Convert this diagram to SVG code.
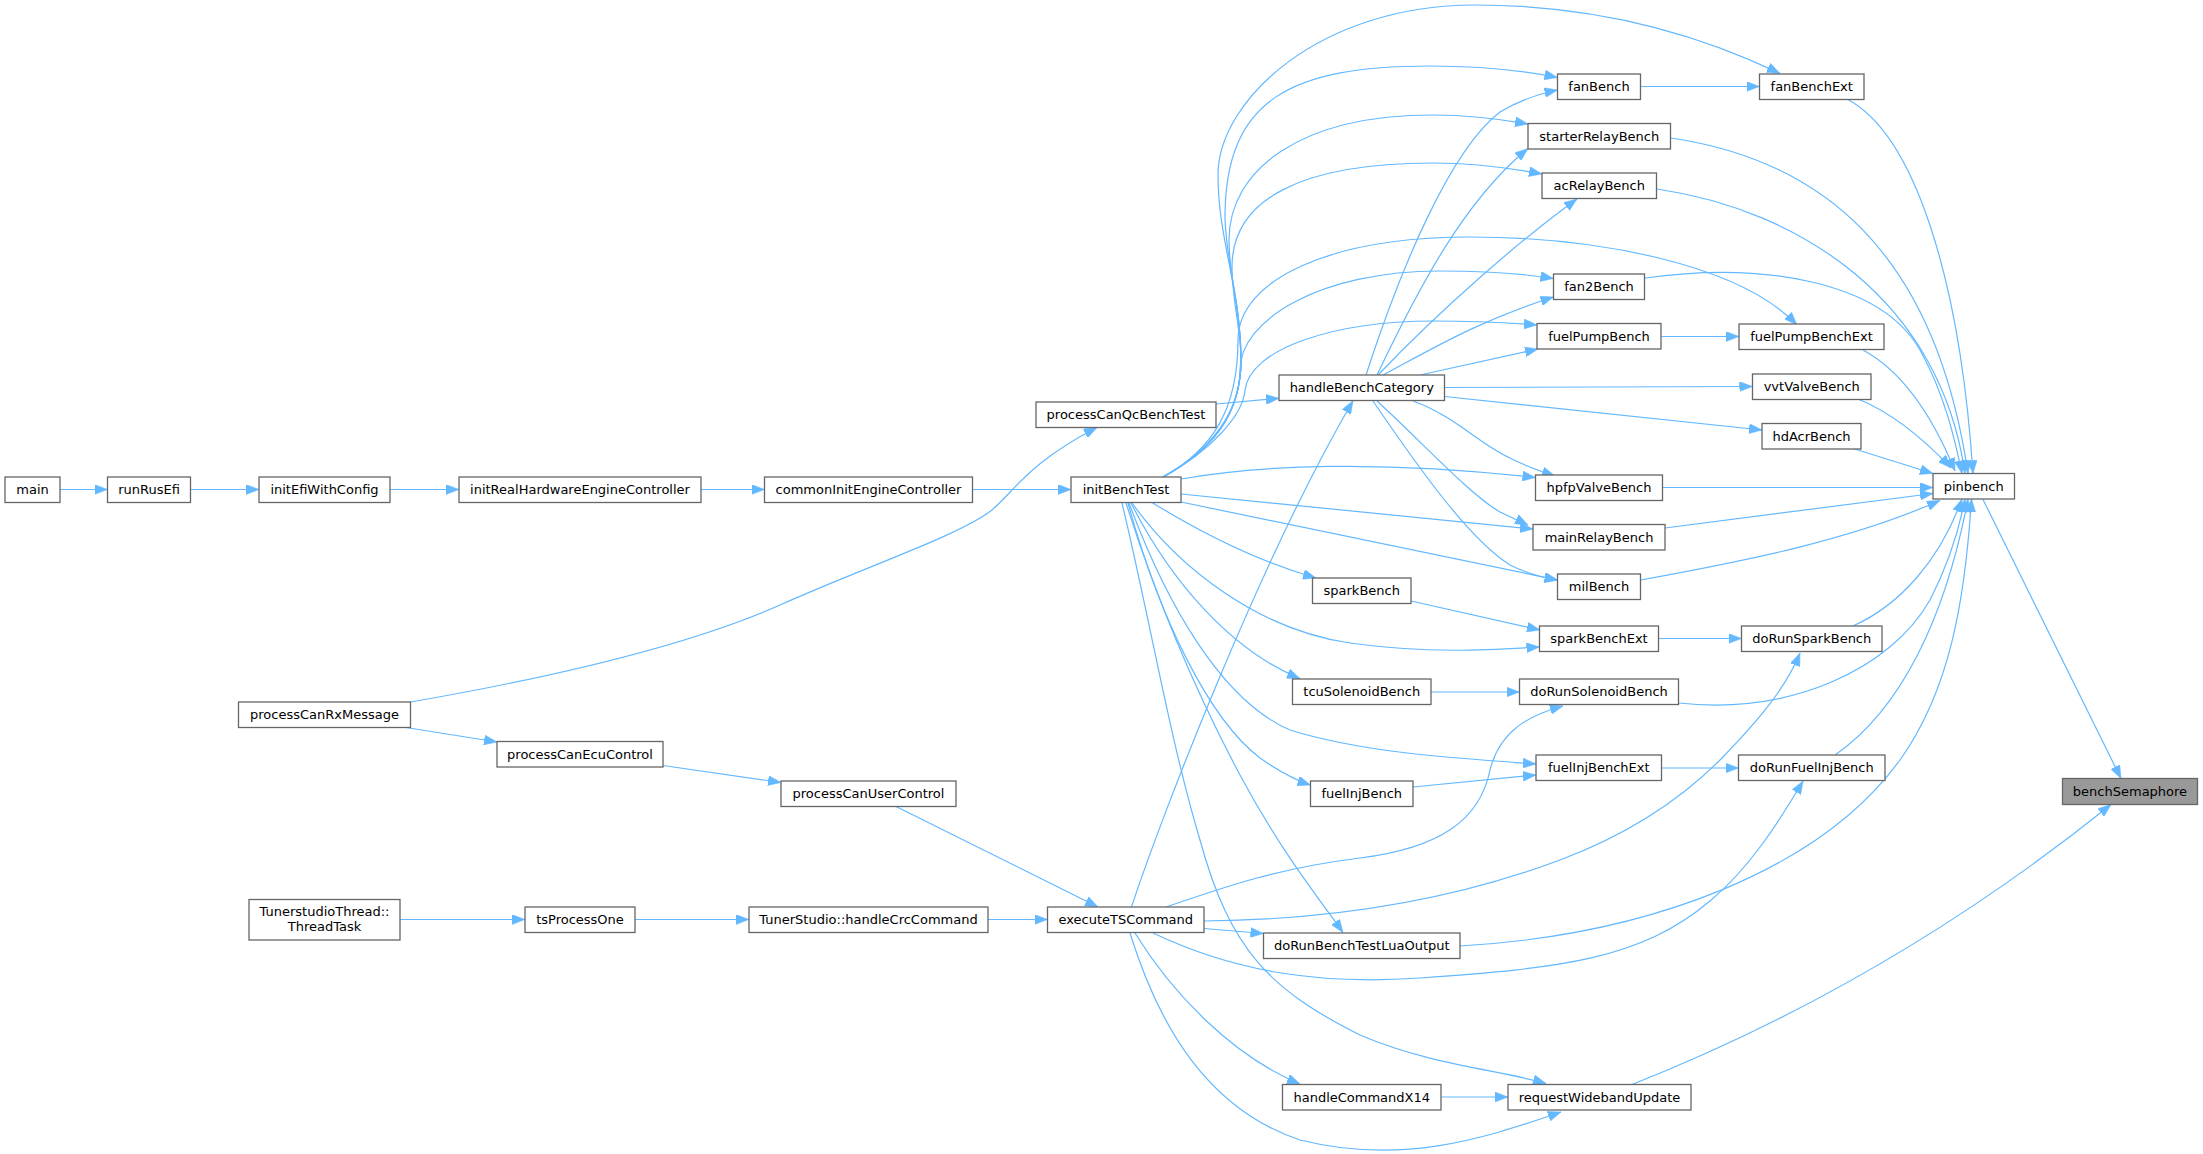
<svg xmlns="http://www.w3.org/2000/svg" width="2203" height="1154" viewBox="0 0 2203 1154">
<style>
.n rect{fill:#ffffff;stroke:#666666;stroke-width:1.3}
.n text{font-family:"DejaVu Sans","Liberation Sans",sans-serif;font-size:13px;fill:#000000;text-anchor:middle}
.root rect{fill:#999999}
.e path{fill:none;stroke:#63b8ff;stroke-width:1.2;marker-end:url(#ah)}
</style>
<defs>
<marker id="ah" markerUnits="userSpaceOnUse" markerWidth="13" markerHeight="10" viewBox="0 0 13 10" refX="13" refY="5" orient="auto">
<path d="M0,0 L13,5 L0,10 Z" fill="#63b8ff" stroke="#63b8ff" stroke-width="0.5"/>
</marker>
</defs>
<rect width="2203" height="1154" fill="#ffffff"/>
<g id="connectors" class="e">
<path d="M60,489.5 L107.5,489.5"/>
<path d="M190.5,489.5 L259,489.5"/>
<path d="M390,489.5 L459,489.5"/>
<path d="M701,489.5 L764.5,489.5"/>
<path d="M972.5,489.5 L1071,489.5"/>
<path d="M400,919.5 L525,919.5"/>
<path d="M635,919.5 L749,919.5"/>
<path d="M988,919.5 L1047.5,919.5"/>
<path d="M406,727.5 L497,742"/>
<path d="M663,765.5 L781,782.5"/>
<path d="M896,806.5 L1098,907"/>
<path d="M410.6,702 C560,676 690,645 780,605 C870,565 960,535 992,510 C1015,490 1030,462 1097,427.5"/>
<path d="M1216,404 L1279,398.3"/>
<path d="M1131.5,907 C1160,820 1260,560 1353,400.7"/>
<!-- initBenchTest upward arcs -->
<path d="M1163,477 C1212,450 1241,415 1241,360 C1241,290 1218,240 1218,175 C1218,100 1320,5 1475,5 C1600,5 1700,35 1780,73.5"/>
<path d="M1163,477 C1212,450 1241,415 1241,360 C1241,300 1225,260 1225,215 C1226,100 1290,66 1430,66 C1480,66 1520,70 1557.5,77.5"/>
<path d="M1163,477 C1212,450 1241,415 1241,360 C1241,310 1229,280 1229,240 C1229,170 1300,115 1433,115 C1470,115 1500,119 1528,124"/>
<path d="M1163,477 C1212,450 1241,415 1241,360 C1241,330 1232,300 1232,267 C1232,200 1300,163 1433,163 C1475,163 1510,168 1542,174"/>
<path d="M1163,477 C1212,450 1238,410 1238,340 C1238,280 1330,237 1470,237 C1600,237 1740,265 1797,325"/>
<path d="M1163,477 C1212,450 1240,410 1240,370 C1240,320 1320,271 1440,271 C1490,271 1525,274 1553.5,278.5"/>
<path d="M1163,477 C1212,450 1243,415 1245,390 C1250,350 1330,321 1435,321 C1480,321 1510,323 1537,325"/>
<!-- initBenchTest right/down -->
<path d="M1181,479 C1260,465 1380,460 1535.5,477.5"/>
<path d="M1181,494 L1533,529"/>
<path d="M1181,502 L1557.5,580"/>
<path d="M1152,502.5 C1200,532 1260,562 1316,578"/>
<path d="M1132,503 C1180,570 1260,630 1350,643 C1430,654 1490,650 1539.5,647"/>
<path d="M1131,503 C1170,580 1230,650 1300,678.5"/>
<path d="M1129,503 C1165,600 1220,700 1290,730 C1360,752 1450,758 1536,764"/>
<path d="M1128,503 C1160,620 1210,720 1260,758 C1280,772 1295,780 1310.5,785"/>
<path d="M1126,503 C1160,610 1200,700 1240,775 C1280,850 1320,900 1343,932.5"/>
<path d="M1122,503 C1150,620 1170,740 1200,840 C1230,950 1270,990 1360,1035 C1430,1065 1500,1070 1546,1083.5"/>
<!-- handleBenchCategory out -->
<path d="M1366,375 C1400,270 1450,150 1500,112 C1520,100 1538,94 1557.5,90"/>
<path d="M1377,375 C1420,285 1465,200 1528,148.5"/>
<path d="M1378,375 C1440,310 1520,240 1577,199"/>
<path d="M1383,375 C1430,350 1480,320 1553.5,297"/>
<path d="M1420,375 L1538,349"/>
<path d="M1444.5,387.5 L1752.5,386.5"/>
<path d="M1444.5,396.5 L1762,430"/>
<path d="M1413,401 C1455,416 1480,445 1510,458 C1525,466 1540,471 1555,476"/>
<path d="M1377,401 C1420,440 1470,495 1500,512 C1512,518 1522,522 1528,525"/>
<path d="M1373,401 C1420,470 1470,540 1510,565 C1530,575 1545,578 1557.5,580"/>
<!-- executeTSCommand out -->
<path d="M1166,907 C1230,885 1280,868 1360,858 C1440,848 1480,820 1490,770 C1500,730 1530,715 1563,706"/>
<path d="M1204,921 C1320,920 1440,905 1560,860 C1640,830 1690,790 1720,760 C1755,724 1785,690 1800,653"/>
<path d="M1204,928.5 L1263.5,933.5"/>
<path d="M1153,933 C1235,972 1320,985 1420,978 C1560,968 1640,960 1710,901 C1750,868 1780,820 1803,781"/>
<path d="M1135,933 C1170,990 1230,1055 1300,1084"/>
<path d="M1130,933 C1160,1030 1210,1110 1300,1140 C1400,1165 1480,1140 1561,1112"/>
<!-- bench chains -->
<path d="M1640.5,86.5 L1759.5,86.5"/>
<path d="M1661,336.5 L1739,336.5"/>
<path d="M1411,601 L1540,630"/>
<path d="M1658.5,638.5 L1741.5,638.5"/>
<path d="M1431,692 L1519.5,692"/>
<path d="M1413,787 L1536,775"/>
<path d="M1661.5,768 L1738.5,768"/>
<path d="M1441,1097 L1508,1097"/>
<!-- into pinbench -->
<path d="M1847,99 C1915,135 1960,280 1973,473.5"/>
<path d="M1671,138 C1820,160 1935,250 1968,473.5"/>
<path d="M1657,189 C1800,210 1940,300 1965,473.5"/>
<path d="M1645,278 C1760,262 1880,280 1920,350 C1945,395 1955,440 1962,473.5"/>
<path d="M1863,350 C1900,370 1930,410 1955,471"/>
<path d="M1858,399 C1890,412 1920,435 1951,468"/>
<path d="M1853,448.5 L1933,473.5"/>
<path d="M1662.5,487.5 L1933,487.5"/>
<path d="M1665,528 L1933,493.5"/>
<path d="M1640.5,580 C1750,560 1850,540 1940,500.5"/>
<path d="M1853,626 C1900,605 1940,560 1962,499"/>
<path d="M1678.5,703 C1790,715 1890,670 1930,600 C1948,565 1958,535 1965,499"/>
<path d="M1835,755 C1900,710 1945,620 1968,499"/>
<path d="M1460,946 C1650,935 1820,870 1900,760 C1950,690 1965,600 1971.5,499"/>
<!-- into benchSemaphore -->
<path d="M1983,499.5 L2121,778.5"/>
<path d="M1632,1084.5 C1820,1010 1980,910 2111,804.5"/>
</g>
<g id="node-main" class="n"><rect x="5" y="477" width="55" height="25.5"/><text x="32.5" y="494">main</text></g>
<g id="node-runRusEfi" class="n"><rect x="107.5" y="477" width="83" height="25.5"/><text x="149" y="494">runRusEfi</text></g>
<g id="node-initEfiWithConfig" class="n"><rect x="259" y="477" width="131" height="25.5"/><text x="324.5" y="494">initEfiWithConfig</text></g>
<g id="node-initRealHardwareEngineController" class="n"><rect x="459" y="477" width="242" height="25.5"/><text x="580" y="494">initRealHardwareEngineController</text></g>
<g id="node-commonInitEngineController" class="n"><rect x="764.5" y="477" width="208" height="25.5"/><text x="868.5" y="494">commonInitEngineController</text></g>
<g id="node-initBenchTest" class="n"><rect x="1071" y="477" width="110" height="25.5"/><text x="1126" y="494">initBenchTest</text></g>
<g id="node-processCanQcBenchTest" class="n"><rect x="1036" y="402" width="180" height="25.5"/><text x="1126" y="419">processCanQcBenchTest</text></g>
<g id="node-handleBenchCategory" class="n"><rect x="1279" y="375" width="165.5" height="25.5"/><text x="1361.75" y="392">handleBenchCategory</text></g>
<g id="node-processCanRxMessage" class="n"><rect x="238.5" y="702" width="172" height="25.5"/><text x="324.5" y="719">processCanRxMessage</text></g>
<g id="node-processCanEcuControl" class="n"><rect x="497" y="741.5" width="166" height="25.5"/><text x="580" y="758.5">processCanEcuControl</text></g>
<g id="node-processCanUserControl" class="n"><rect x="781" y="781" width="175" height="25.5"/><text x="868.5" y="798">processCanUserControl</text></g>
<g id="node-TunerstudioThread-ThreadTask" class="n"><rect x="249" y="899.5" width="151" height="40.5"/><text x="324.5" y="916">TunerstudioThread::</text><text x="324.5" y="931">ThreadTask</text></g>
<g id="node-tsProcessOne" class="n"><rect x="525" y="907" width="110" height="25.5"/><text x="580" y="924">tsProcessOne</text></g>
<g id="node-handleCrcCommand" class="n"><rect x="749" y="907" width="239" height="25.5"/><text x="868.5" y="924">TunerStudio::handleCrcCommand</text></g>
<g id="node-executeTSCommand" class="n"><rect x="1047.5" y="907" width="156.5" height="25.5"/><text x="1125.75" y="924">executeTSCommand</text></g>
<g id="node-fanBench" class="n"><rect x="1557.5" y="74" width="83" height="25.5"/><text x="1599" y="91">fanBench</text></g>
<g id="node-fanBenchExt" class="n"><rect x="1759.5" y="74" width="104.5" height="25.5"/><text x="1811.75" y="91">fanBenchExt</text></g>
<g id="node-starterRelayBench" class="n"><rect x="1528" y="123.5" width="142.5" height="25.5"/><text x="1599.25" y="140.5">starterRelayBench</text></g>
<g id="node-acRelayBench" class="n"><rect x="1542" y="173" width="114.5" height="25.5"/><text x="1599.25" y="190">acRelayBench</text></g>
<g id="node-fan2Bench" class="n"><rect x="1553.5" y="274" width="91" height="25.5"/><text x="1599" y="291">fan2Bench</text></g>
<g id="node-fuelPumpBench" class="n"><rect x="1537" y="323.5" width="124" height="25.5"/><text x="1599" y="340.5">fuelPumpBench</text></g>
<g id="node-fuelPumpBenchExt" class="n"><rect x="1739" y="324" width="145" height="25.5"/><text x="1811.5" y="341">fuelPumpBenchExt</text></g>
<g id="node-vvtValveBench" class="n"><rect x="1752.5" y="374" width="118.5" height="25.5"/><text x="1811.75" y="391">vvtValveBench</text></g>
<g id="node-hdAcrBench" class="n"><rect x="1762" y="423.5" width="99" height="25.5"/><text x="1811.5" y="440.5">hdAcrBench</text></g>
<g id="node-pinbench" class="n"><rect x="1933" y="473.5" width="81.5" height="25.5"/><text x="1973.75" y="490.5">pinbench</text></g>
<g id="node-hpfpValveBench" class="n"><rect x="1535.5" y="475" width="127" height="25.5"/><text x="1599" y="492">hpfpValveBench</text></g>
<g id="node-mainRelayBench" class="n"><rect x="1533" y="524.5" width="132" height="25.5"/><text x="1599" y="541.5">mainRelayBench</text></g>
<g id="node-milBench" class="n"><rect x="1557.5" y="574" width="83" height="25.5"/><text x="1599" y="591">milBench</text></g>
<g id="node-sparkBench" class="n"><rect x="1312.5" y="578" width="98.5" height="25.5"/><text x="1361.75" y="595">sparkBench</text></g>
<g id="node-sparkBenchExt" class="n"><rect x="1539.5" y="626" width="119" height="25.5"/><text x="1599" y="643">sparkBenchExt</text></g>
<g id="node-doRunSparkBench" class="n"><rect x="1741.5" y="626" width="140.5" height="25.5"/><text x="1811.75" y="643">doRunSparkBench</text></g>
<g id="node-tcuSolenoidBench" class="n"><rect x="1292.5" y="679" width="138.5" height="25.5"/><text x="1361.75" y="696">tcuSolenoidBench</text></g>
<g id="node-doRunSolenoidBench" class="n"><rect x="1519.5" y="679" width="159" height="25.5"/><text x="1599" y="696">doRunSolenoidBench</text></g>
<g id="node-fuelInjBench" class="n"><rect x="1310.5" y="781" width="102.5" height="25.5"/><text x="1361.75" y="798">fuelInjBench</text></g>
<g id="node-fuelInjBenchExt" class="n"><rect x="1536" y="755" width="125.5" height="25.5"/><text x="1598.75" y="772">fuelInjBenchExt</text></g>
<g id="node-doRunFuelInjBench" class="n"><rect x="1738.5" y="755" width="146.5" height="25.5"/><text x="1811.75" y="772">doRunFuelInjBench</text></g>
<g id="node-benchSemaphore" class="n root"><rect x="2062.5" y="778.5" width="135" height="26"/><text x="2130" y="796">benchSemaphore</text></g>
<g id="node-doRunBenchTestLuaOutput" class="n"><rect x="1263.5" y="933" width="196.5" height="25.5"/><text x="1361.75" y="950">doRunBenchTestLuaOutput</text></g>
<g id="node-handleCommandX14" class="n"><rect x="1282.5" y="1084.5" width="158.5" height="25.5"/><text x="1361.75" y="1101.5">handleCommandX14</text></g>
<g id="node-requestWidebandUpdate" class="n"><rect x="1508" y="1084.5" width="183" height="25.5"/><text x="1599.5" y="1101.5">requestWidebandUpdate</text></g>
</svg>
